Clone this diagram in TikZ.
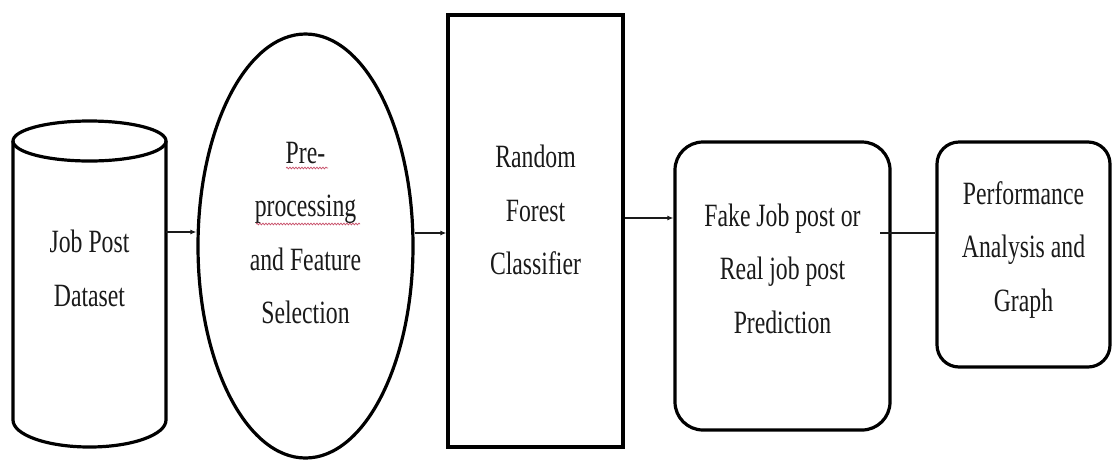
\documentclass[tikz,border=0pt]{standalone}
\usepackage{fontspec}
\setmainfont[FakeStretch=0.73]{Liberation Serif}
\usetikzlibrary{shapes.geometric,arrows.meta,decorations.pathmorphing}
\definecolor{ink}{HTML}{1A1A1A}
\definecolor{spell}{HTML}{C8506A}
\begin{document}
\begin{tikzpicture}[x=1pt,y=-1pt,
  shp/.style={draw=black, line width=3.2pt},
  txt/.style={align=center, text=ink, font=\fontsize{32.5}{53.5}\selectfont, inner sep=0pt},
  arr/.style={draw=ink, line width=1.3pt, -{Latex[length=6pt,width=5pt]}},
  lnk/.style={draw=ink, line width=1.3pt},
  wavy/.style={draw=spell, line width=0.7pt, decorate, decoration={snake, amplitude=0.9pt, segment length=3pt}}
]
\fill[white] (0,0) rectangle (1113,459);
\useasboundingbox (0,0) rectangle (1113,459);

% cylinder
\draw[shp] (89.5,141) ellipse[x radius=76.5, y radius=20];
\draw[shp] (13,141) -- (13,420) arc[start angle=180, end angle=0, x radius=76.5, y radius=27] -- (166,141);
\node[minimum width=153pt, minimum height=300pt, inner sep=0pt] (cyl) at (89.5,284) {};
\node[txt] (t1) at (89.5,268.5) {Job Post\\Dataset};

% ellipse
\node[shp, ellipse, minimum width=215pt, minimum height=424pt, inner sep=0pt] (ell) at (305.5,246) {};
\node[txt] (t2) at (305.5,233) {Pre-\\processing\\and Feature\\Selection};
\draw[wavy] (286,168) -- (328,168);
\draw[wavy] (256,224) -- (360,224);

% rectangle
\node[shp, rectangle, minimum width=175pt, minimum height=432pt, inner sep=0pt] (rf) at (535.5,231) {};
\node[txt] (t3) at (535.5,210) {Random\\Forest\\Classifier};

% rounded boxes
\node[shp, rectangle, rounded corners=28pt, minimum width=215pt, minimum height=288pt, inner sep=0pt] (b1) at (782.5,286) {};
\node[txt] (t4) at (782.5,268.5) {Fake Job post or\\Real job post\\Prediction};
\node[shp, rectangle, rounded corners=22pt, minimum width=173pt, minimum height=225pt, inner sep=0pt] (b2) at (1023.5,254.5) {};
\node[txt] (t5) at (1023.5,250) {Performance\\Analysis and\\Graph};

% connectors
\coordinate (y1) at (0,232);
\coordinate (y2) at (0,233);
\coordinate (y3) at (0,218);
\draw[arr] (cyl.east |- y1) -- (ell.west |- y1);
\draw[arr] (ell.east |- y2) -- (rf.west |- y2);
\draw[arr] (rf.east |- y3) -- (b1.west |- y3);
\coordinate (l4) at (880,233);
\draw[lnk] (l4) -- (l4 -| b2.west);
\end{tikzpicture}
\end{document}
